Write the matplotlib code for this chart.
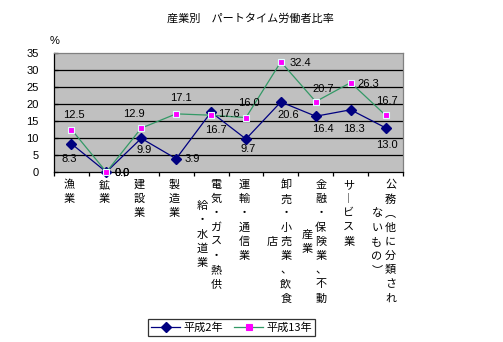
import matplotlib
matplotlib.use("Agg")
import matplotlib.pyplot as plt
import numpy as np

# ---- data ----
categories = ["漁業", "鉱業", "建設業", "製造業", "電気・ガス・熱供給・水道業", "運輸・通信業",
              "卸売・小売業、飲食店", "金融・保険業、不動産業", "サービス業", "公務（他に分類されないもの）"]
# how each label wraps into vertical columns (right column first)
cat_columns = [["漁業"], ["鉱業"], ["建設業"], ["製造業"], ["電気・ガス・熱供", "給・水道業"],
               ["運輸・通信業"], ["卸売・小売業、飲食", "店"], ["金融・保険業、不動", "産業"],
               ["サービス業"], ["公務（他に分類され", "ないもの）"]]
h2 = [8.3, 0.0, 9.9, 3.9, 17.6, 9.7, 20.6, 16.4, 18.3, 13.0]
h13 = [12.5, 0.0, 12.9, 17.1, 16.7, 16.0, 32.4, 20.7, 26.3, 16.7]
series_names = ["平成2年", "平成13年"]
title = "産業別　パートタイム労働者比率"
yticks = [0, 5, 10, 15, 20, 25, 30, 35]

# label offsets in pixels (dx, dy down)
off_h2 = [(-2, 15), (16, 1), (3, 12), (16, 0), (18, 2), (2, 10), (7, 13), (7, 13), (3, 19), (1, 17)]
off_h13 = [(2, -15), (16, 1), (-7, -14), (5, -16), (5, 15), (3, -15), (20, 1), (7, -13), (18, 1), (1, -14)]

JP = "Noto Sans CJK JP"
NUM = ["Liberation Sans", "Noto Sans CJK JP"]
PX = 0.72  # points per pixel at dpi 100

fig = plt.figure(figsize=(5.03, 3.42), dpi=100)
fig.patch.set_facecolor("white")
W, H = 503, 342
ax = fig.add_axes([54 / W, 1 - 172 / H, (403 - 54) / W, (172 - 53) / H])
ax.set_facecolor("#C0C0C0")

x = np.arange(len(categories))
ax.set_xlim(-0.5, len(categories) - 0.5)
ax.set_ylim(0, 35)

for yv in yticks[1:-1]:
    ax.axhline(yv, color="black", lw=0.9, zorder=1)

l1, = ax.plot(x, h2, color="#000080", lw=0.9, marker="D", markersize=4.6,
              markerfacecolor="#000080", markeredgecolor="#000080", zorder=3, clip_on=False)
l2, = ax.plot(x, h13, color="#339966", lw=0.9, marker="s", markersize=5,
              markerfacecolor="#FF00FF", markeredgecolor="#E0FFFF", markeredgewidth=0.8,
              zorder=4, clip_on=False)

for xi, v, (dx, dy) in zip(x, h2, off_h2):
    ax.annotate(f"{v:.1f}", xy=(xi, v), xytext=(dx * PX, -dy * PX), textcoords="offset points",
                ha="center", va="center", fontsize=8, family=NUM, zorder=5, annotation_clip=False)
for xi, v, (dx, dy) in zip(x, h13, off_h13):
    ax.annotate(f"{v:.1f}", xy=(xi, v), xytext=(dx * PX, -dy * PX), textcoords="offset points",
                ha="center", va="center", fontsize=8, family=NUM, zorder=5, annotation_clip=False)

# spines
ax.spines["left"].set_color("black")
ax.spines["bottom"].set_color("black")
ax.spines["top"].set_color("#808080")
ax.spines["right"].set_color("#808080")
for s in ax.spines.values():
    s.set_linewidth(0.9)

ax.set_yticks(yticks)
ax.set_yticklabels([str(t) for t in yticks], fontsize=8, family=NUM)
ax.tick_params(axis="y", direction="in", length=3, width=0.9, pad=11)
ax.set_xticks(np.arange(len(categories) + 1) - 0.5)
ax.set_xticklabels([])
ax.tick_params(axis="x", direction="out", length=3, width=0.9)

# vertical category labels
vmap = {"ー": "︱", "（": "︵", "）": "︶"}
row_h = 14.2
for i, cols in enumerate(cat_columns):
    if len(cols) == 1:
        dxs = [-2]
    else:
        dxs = [5, -8.5]
    n1 = len(cols[0])
    for c, (col, dxp) in enumerate(zip(cols, dxs)):
        start = 0 if c == 0 else (n1 - len(col)) / 2
        for r, ch in enumerate(col):
            ch = vmap.get(ch, ch)
            ax.annotate(ch, xy=(i, 0), xycoords=("data", "axes fraction"),
                        xytext=(dxp * PX, -(13 + (start + r) * row_h) * PX),
                        textcoords="offset points", ha="center", va="center",
                        fontsize=8, family=[JP, "DejaVu Sans"], annotation_clip=False)

fig.text(250 / W, 1 - 18 / H, title, ha="center", va="center", fontsize=8, family=[JP, "DejaVu Sans"])
fig.text(55 / W, 1 - 41 / H, "%", ha="center", va="center", fontsize=8, family=NUM)

leg = fig.legend([l1, l2], series_names, loc="center", bbox_to_anchor=(231.5 / W, 1 - 327.5 / H),
                 ncol=2, frameon=True, fancybox=False, prop={"family": [JP, "DejaVu Sans"], "size": 8},
                 handlelength=2.6, handletextpad=0.3, columnspacing=1.0, borderpad=0.3,
                 borderaxespad=0)
leg.get_frame().set_edgecolor("black")
leg.get_frame().set_linewidth(0.9)
leg.legend_handles[1].set_markeredgecolor("#FF00FF")

fig.savefig("out.png", dpi=100)
